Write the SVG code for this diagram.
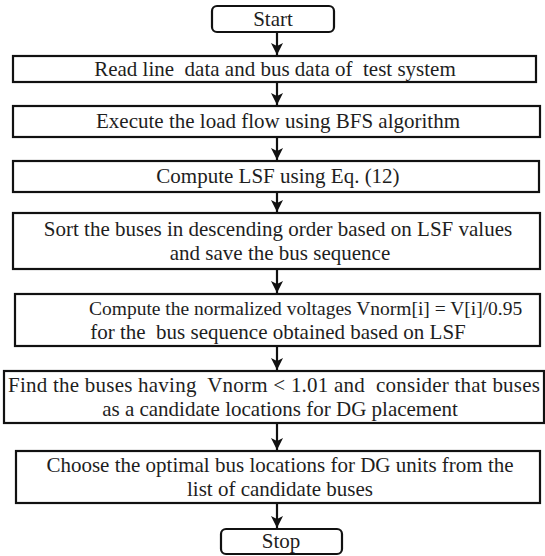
<svg xmlns="http://www.w3.org/2000/svg" width="545" height="556" viewBox="0 0 545 556">
  <style>
    .box { fill: #ffffff; stroke: #111111; stroke-width: 2.2; }
    .term { fill: #ffffff; stroke: #111111; stroke-width: 2.2; }
    text { font-family: 'Liberation Serif', 'Times New Roman', serif; font-size: 21px; fill: #1e1e1e; text-anchor: middle; }
    text.left { text-anchor: start; }
    text.tight { font-size: 19.5px; }
    .flow { stroke: #111111; stroke-width: 2.2; fill: none; marker-end: url(#head); }
  </style>
  <defs>
    <marker id="head" markerUnits="userSpaceOnUse" markerWidth="12" markerHeight="12" viewBox="0 0 12 12" refX="12" refY="6" orient="auto">
      <path d="M0,0 L12,6 L0,12 L3,6 z" fill="#111111"/>
    </marker>
  </defs>
  <rect width="545" height="556" fill="#ffffff"/>

  <!-- downward flow arrows between consecutive steps -->
  <g id="connectors">
    <line class="flow" x1="277" y1="32" x2="277" y2="55"/>
    <line class="flow" x1="277" y1="82" x2="277" y2="105"/>
    <line class="flow" x1="277" y1="137" x2="277" y2="160"/>
    <line class="flow" x1="277" y1="192" x2="277" y2="212"/>
    <line class="flow" x1="277" y1="269" x2="277" y2="293"/>
    <line class="flow" x1="277" y1="346" x2="277" y2="370"/>
    <line class="flow" x1="277" y1="423" x2="277" y2="450"/>
    <line class="flow" x1="277" y1="503" x2="277" y2="528"/>
  </g>

  <g id="start">
    <rect class="term" x="212" y="6" width="122" height="26" rx="5"/>
    <text x="273" y="26">Start</text>
  </g>

  <g id="read-data">
    <rect class="box" x="13" y="56" width="523" height="26"/>
    <text x="275" y="76" xml:space="preserve">Read line  data and bus data of  test system</text>
  </g>

  <g id="load-flow">
    <rect class="box" x="13" y="106" width="527" height="31"/>
    <text x="278" y="128">Execute the load flow using BFS algorithm</text>
  </g>

  <g id="compute-lsf">
    <rect class="box" x="13" y="161" width="526" height="31"/>
    <text x="278" y="183">Compute LSF using Eq. (12)</text>
  </g>

  <g id="sort-buses">
    <rect class="box" x="13" y="213" width="527" height="56"/>
    <text x="278" y="236">Sort the buses in descending order based on LSF values</text>
    <text x="280" y="260">and save the bus sequence</text>
  </g>

  <g id="normalize">
    <rect class="box" x="15" y="294" width="525" height="52"/>
    <text class="left tight" x="89" y="315">Compute the normalized voltages Vnorm[i] = V[i]/0.95</text>
    <text x="278" y="339" xml:space="preserve">for the  bus sequence obtained based on LSF</text>
  </g>

  <g id="candidates">
    <rect class="box" x="4" y="371" width="540" height="52"/>
    <text class="left" x="8" y="392" textLength="532" xml:space="preserve">Find the buses having  Vnorm &lt; 1.01 and  consider that buses</text>
    <text x="280" y="416">as a candidate locations for DG placement</text>
  </g>

  <g id="choose">
    <rect class="box" x="16" y="451" width="524" height="52"/>
    <text x="280" y="472">Choose the optimal bus locations for DG units from the</text>
    <text x="280" y="496">list of candidate buses</text>
  </g>

  <g id="stop">
    <rect class="term" x="221" y="529" width="121" height="25" rx="5"/>
    <text x="281" y="548">Stop</text>
  </g>
</svg>
